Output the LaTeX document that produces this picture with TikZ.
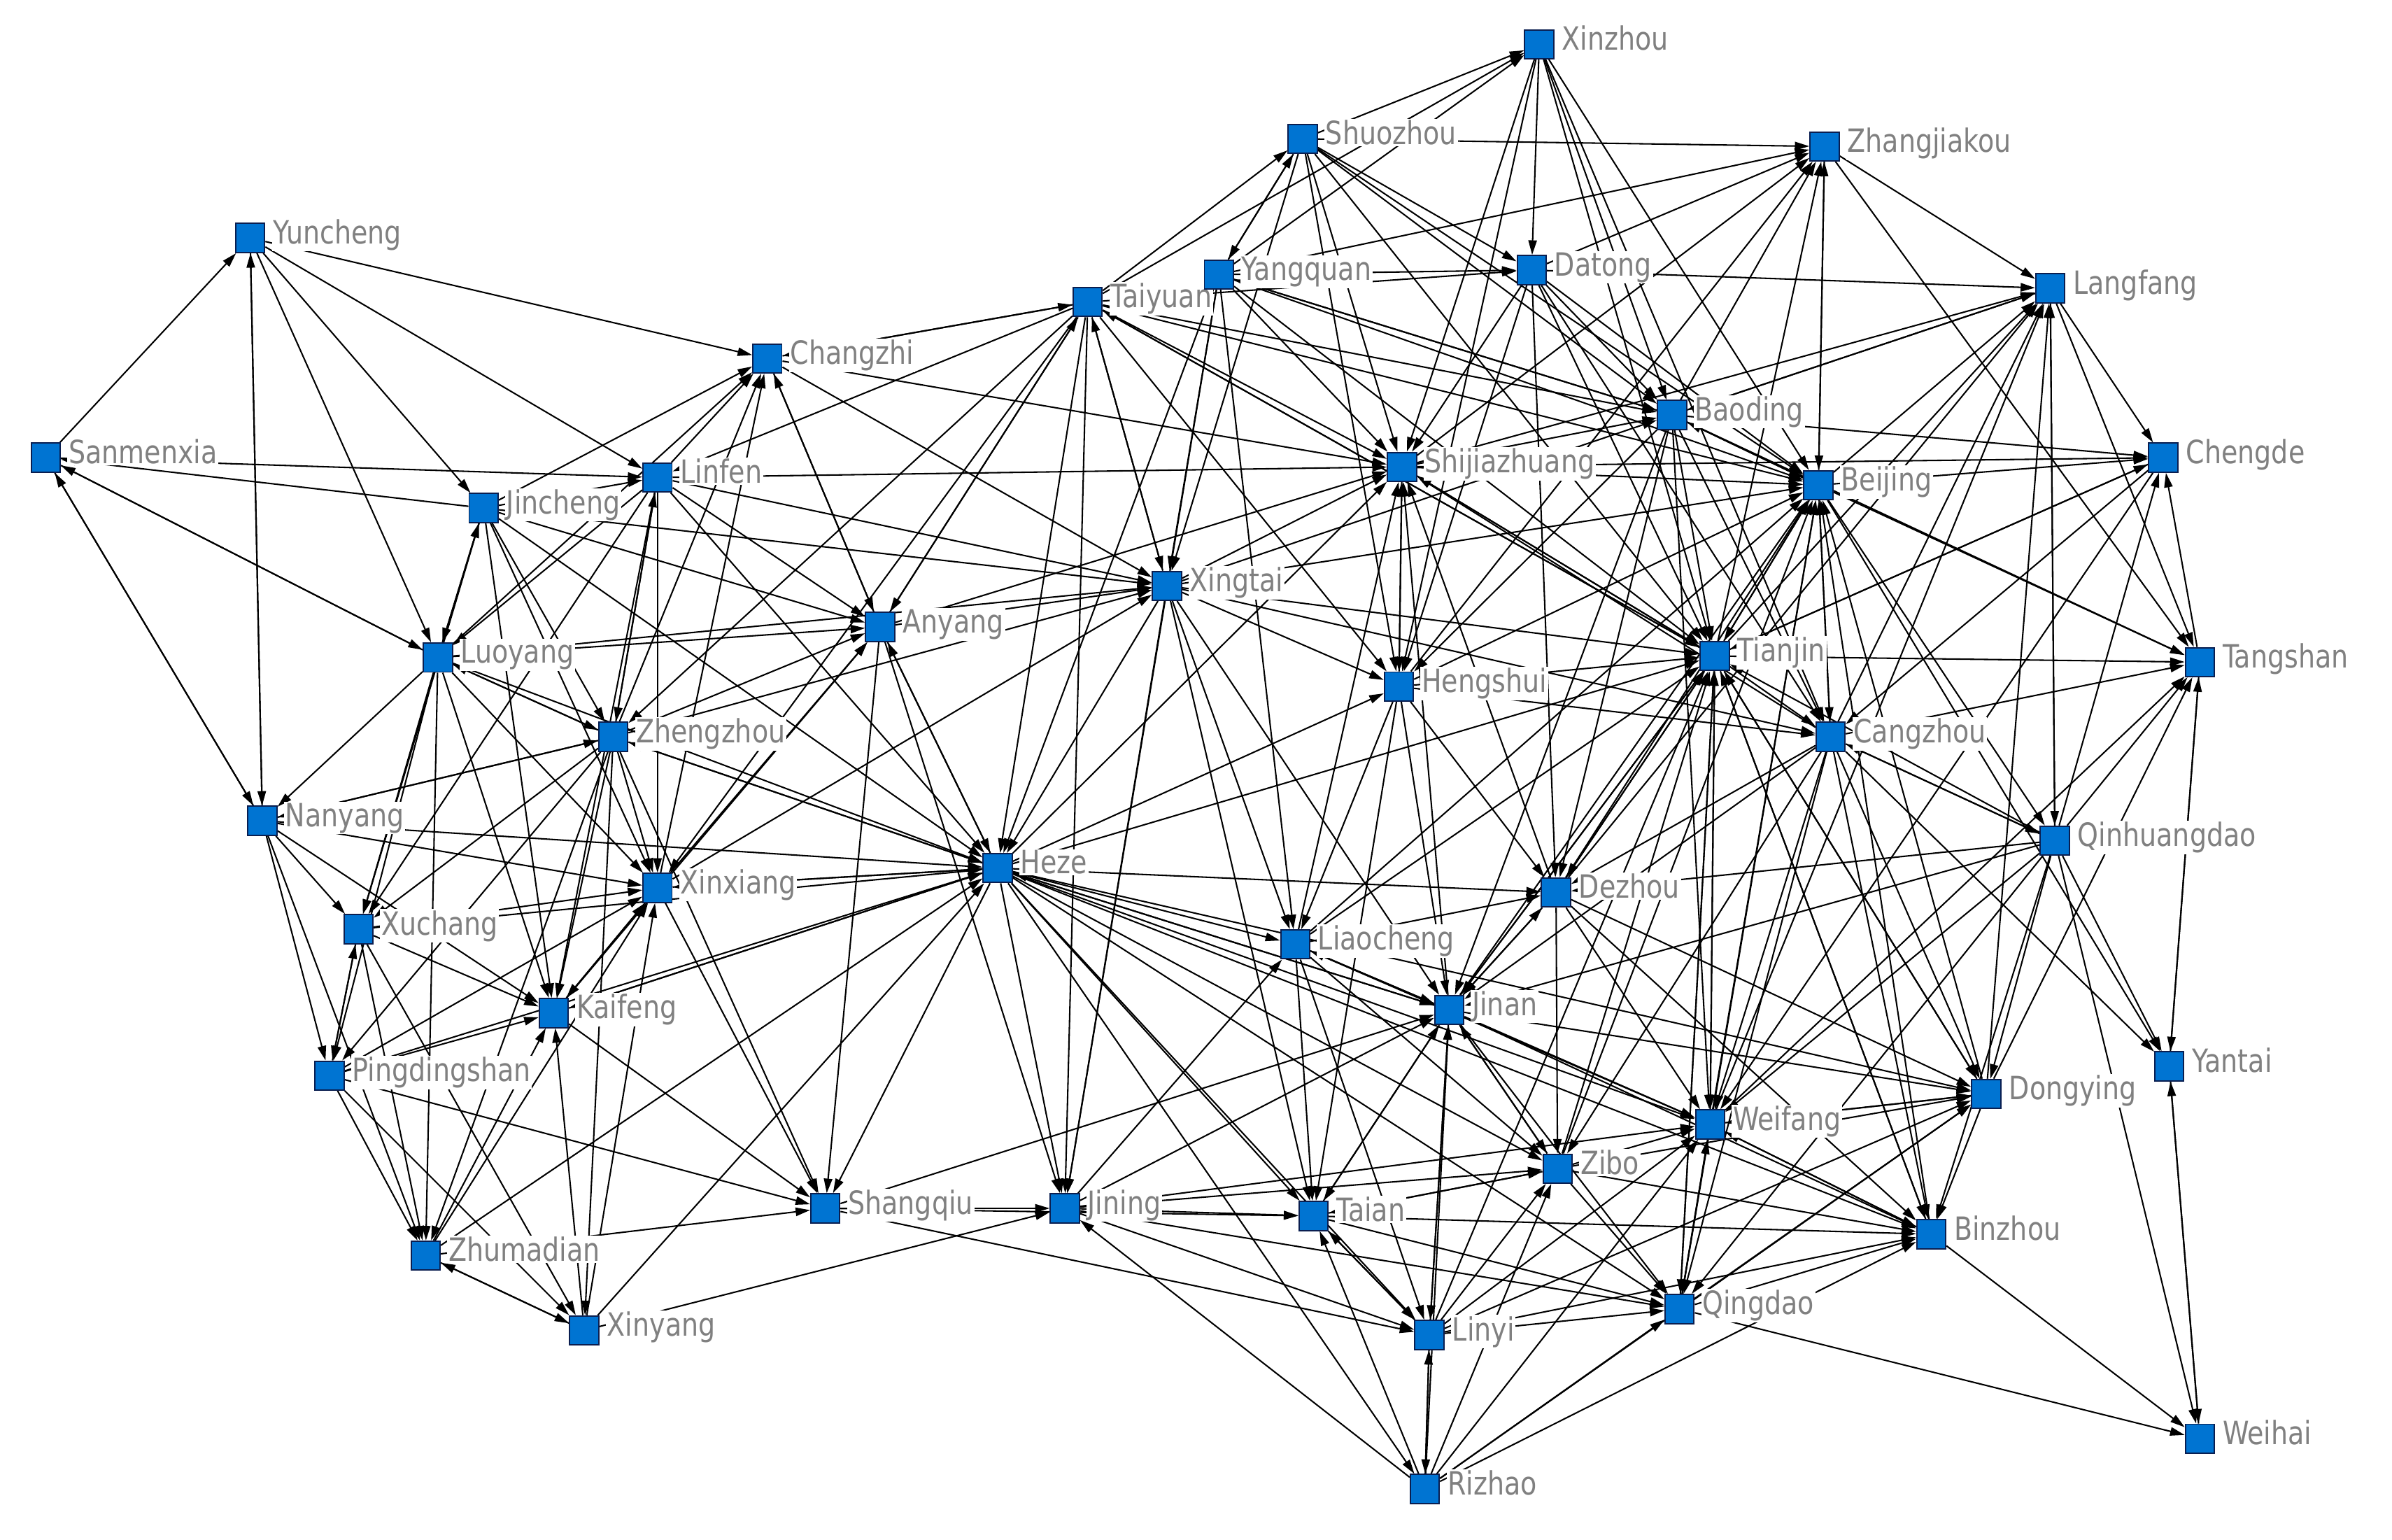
\documentclass[tikz,border=0pt]{standalone}
\usepackage{fontspec}
\newfontfamily\labfont[FakeStretch=0.83]{DejaVu Sans}
\usetikzlibrary{arrows.meta}
\pgfdeclarelayer{bg}
\pgfdeclarelayer{paper}
\pgfdeclarelayer{labl}
\pgfsetlayers{paper,bg,labl,main}
\definecolor{nodeblue}{RGB}{0,116,210}
\definecolor{nodeedge}{RGB}{10,30,80}
\definecolor{labgray}{RGB}{128,128,128}
\newcommand\mkcity[4]{%
  \node[city] (#1) at (#2,#3) {};
  \begin{pgfonlayer}{labl}
  \node[lab] (#1t) at ([xshift=14pt,yshift=-3.7pt]#1.center) {#4};
  \end{pgfonlayer}}
\begin{document}
\begin{tikzpicture}[x=1pt,y=-1pt,
 city/.style={rectangle,draw=nodeedge,fill=nodeblue,line width=0.9pt,minimum size=19pt,inner sep=0pt},
 lab/.style={anchor=base west,fill=white,inner sep=0.8pt,text=labgray,font=\labfont\fontsize{21}{21}\selectfont},
 edge/.style={-{Triangle[length=9.5pt,width=5.5pt]},line width=0.95pt,black}]
\useasboundingbox (0,0) rectangle (1568,1009);
\begin{pgfonlayer}{paper}
\fill[white] (0,0) rectangle (1568,1009);
\end{pgfonlayer}
\mkcity{XZ}{1009}{29}{Xinzhou}
\mkcity{SZ}{854}{91}{Shuozhou}
\mkcity{ZJK}{1196}{96}{Zhangjiakou}
\mkcity{YC}{164}{156}{Yuncheng}
\mkcity{YQ}{799}{180}{Yangquan}
\mkcity{DT}{1004}{177}{Datong}
\mkcity{LFG}{1344}{189}{Langfang}
\mkcity{TY}{713}{198}{Taiyuan}
\mkcity{CZ}{503}{235}{Changzhi}
\mkcity{BD}{1096}{272}{Baoding}
\mkcity{SMX}{30}{300}{Sanmenxia}
\mkcity{CD}{1418}{300}{Chengde}
\mkcity{SJZ}{919}{306}{Shijiazhuang}
\mkcity{LF}{431}{313}{Linfen}
\mkcity{BJ}{1192}{318}{Beijing}
\mkcity{JC}{317}{333}{Jincheng}
\mkcity{XT}{765}{384}{Xingtai}
\mkcity{AY}{577}{411}{Anyang}
\mkcity{TJ}{1124}{430}{Tianjin}
\mkcity{TS}{1442}{434}{Tangshan}
\mkcity{LY}{287}{431}{Luoyang}
\mkcity{HS}{917}{450}{Hengshui}
\mkcity{ZZ}{402}{483}{Zhengzhou}
\mkcity{CAZ}{1200}{483}{Cangzhou}
\mkcity{NY}{172}{538}{Nanyang}
\mkcity{QHD}{1347}{551}{Qinhuangdao}
\mkcity{HZ}{654}{569}{Heze}
\mkcity{XX}{431}{582}{Xinxiang}
\mkcity{DZ}{1020}{585}{Dezhou}
\mkcity{XC}{235}{609}{Xuchang}
\mkcity{LC}{849}{619}{Liaocheng}
\mkcity{JN}{950}{662}{Jinan}
\mkcity{KF}{363}{664}{Kaifeng}
\mkcity{YT}{1422}{699}{Yantai}
\mkcity{PDS}{216}{705}{Pingdingshan}
\mkcity{DY}{1302}{717}{Dongying}
\mkcity{WF}{1121}{737}{Weifang}
\mkcity{ZB}{1021}{766}{Zibo}
\mkcity{SQ}{541}{792}{Shangqiu}
\mkcity{JNG}{698}{792}{Jining}
\mkcity{TA}{861}{797}{Taian}
\mkcity{BZ}{1266}{809}{Binzhou}
\mkcity{ZMD}{279}{823}{Zhumadian}
\mkcity{QD}{1101}{858}{Qingdao}
\mkcity{XY}{383}{872}{Xinyang}
\mkcity{LYI}{937}{875}{Linyi}
\mkcity{WH}{1442}{943}{Weihai}
\mkcity{RZ}{934}{976}{Rizhao}
\begin{pgfonlayer}{bg}
\foreach \a/\b in {
SZ/XZ,TY/XZ,YQ/XZ,XZ/DT,XZ/SJZ,XZ/BD,XZ/BJ,XZ/TJ,XZ/HS,XZ/CAZ,
SZ/ZJK,SZ/DT,SZ/BD,SZ/BJ,TY/SZ,YQ/SZ,SZ/YQ,SZ/SJZ,SZ/XT,SZ/TJ,SZ/HS,
DT/ZJK,ZJK/LFG,ZJK/BJ,BJ/ZJK,BD/ZJK,ZJK/TS,TJ/ZJK,SJZ/ZJK,YQ/ZJK,HS/ZJK,
YQ/DT,DT/LFG,DT/BD,DT/BJ,DT/TJ,DT/CAZ,DT/SJZ,DT/HS,TY/DT,DT/DZ,
BD/LFG,LFG/BD,BJ/LFG,LFG/CD,LFG/TS,LFG/QHD,QHD/LFG,TJ/LFG,CAZ/LFG,SJZ/LFG,DZ/LFG,WF/LFG,DY/LFG,
BD/CD,BJ/CD,TS/CD,QHD/CD,CD/TJ,CD/CAZ,CD/WF,TJ/CD,
BJ/TS,TJ/TS,CAZ/TS,QHD/TS,TS/YT,YT/TS,DY/TS,WF/TS,BD/TS,
QHD/CAZ,CAZ/QHD,QHD/TJ,QHD/DY,QHD/BZ,QHD/YT,QHD/WH,QHD/WF,QHD/DZ,QHD/JN,QHD/QD,BJ/QHD,
YT/WH,WH/YT,CAZ/YT,BJ/YT,QD/WH,BZ/WH,
BD/BJ,BJ/BD,SJZ/BJ,YQ/BJ,TY/BJ,BJ/TJ,TJ/BJ,BJ/CAZ,CAZ/BJ,HS/BJ,XT/BJ,DZ/BJ,JN/BJ,WF/BJ,DY/BJ,BZ/BJ,QD/BJ,ZB/BJ,LC/BJ,
SJZ/TJ,TJ/SJZ,TY/TJ,TJ/TY,YQ/TJ,TJ/CAZ,DZ/TJ,TJ/DZ,JN/TJ,TJ/JN,LC/TJ,WF/TJ,TJ/WF,ZB/TJ,DY/TJ,BZ/TJ,QD/TJ,LYI/TJ,HS/TJ,XT/TJ,BD/TJ,HZ/TJ,TJ/QD,TJ/BZ,TJ/DY,
CZ/SJZ,LF/SJZ,TY/SJZ,YQ/SJZ,SJZ/HS,HS/SJZ,SJZ/BD,XT/SJZ,AY/SJZ,LC/SJZ,JN/SJZ,DZ/SJZ,HZ/SJZ,CAZ/SJZ,SJZ/CD,
TY/BD,YQ/BD,BD/YQ,BD/CAZ,BD/DZ,BD/HS,XT/BD,BD/WF,BD/JN,
XT/HS,HS/CAZ,HS/LC,HS/JN,HS/DZ,HS/TA,HZ/HS,TY/HS,
LF/XT,CZ/XT,JC/XT,AY/XT,TY/XT,XT/TY,YQ/XT,XT/CAZ,XT/LC,XT/JN,XT/TA,XT/HZ,XT/JNG,ZZ/XT,XX/XT,LY/XT,
CZ/TY,TY/CZ,TY/AY,TY/HZ,TY/JNG,TY/ZZ,TY/XX,TY/LF,
YQ/HZ,YQ/JNG,YQ/LC,
CZ/AY,AY/CZ,LF/CZ,JC/CZ,LY/CZ,ZZ/CZ,XX/CZ,YC/CZ,
YC/LF,SMX/LF,LF/LY,LF/ZZ,ZZ/LF,LF/XX,LF/KF,LF/XC,LF/AY,LF/HZ,JC/LF,
YC/JC,JC/SMX,JC/LY,LY/JC,JC/ZZ,JC/XX,JC/KF,JC/XC,JC/AY,JC/HZ,
AY/HZ,HZ/AY,AY/SQ,LY/AY,ZZ/AY,XX/AY,KF/AY,AY/TY,AY/JNG,
SMX/LY,LY/SMX,YC/LY,LY/ZZ,ZZ/LY,LY/XC,LY/PDS,LY/NY,LY/KF,LY/ZMD,LY/XX,LY/HZ,
ZZ/XX,ZZ/KF,ZZ/XC,ZZ/PDS,ZZ/NY,ZZ/ZMD,ZZ/XY,ZZ/HZ,HZ/ZZ,ZZ/SQ,NY/ZZ,
YC/NY,NY/YC,SMX/YC,SMX/NY,NY/SMX,NY/XC,NY/PDS,NY/ZMD,NY/KF,NY/XX,NY/HZ,
XX/HZ,HZ/XX,XX/SQ,XX/KF,XC/XX,KF/XX,PDS/XX,
XC/KF,XC/PDS,XC/ZMD,XC/HZ,XC/XY,PDS/XC,
KF/HZ,HZ/KF,KF/SQ,PDS/KF,ZMD/KF,XY/KF,
PDS/ZMD,PDS/XY,PDS/SQ,PDS/HZ,
ZMD/XY,XY/ZMD,ZMD/SQ,ZMD/XX,ZMD/HZ,
XY/JNG,XY/HZ,XY/XX,
SQ/JNG,HZ/SQ,SQ/LYI,SQ/JN,SQ/TA,
HZ/JN,JN/HZ,HZ/LC,HZ/DZ,HZ/JNG,HZ/TA,HZ/LYI,HZ/RZ,HZ/QD,HZ/ZB,HZ/WF,HZ/BZ,HZ/DY,
JNG/TA,JNG/JN,JNG/ZB,JNG/LYI,JNG/QD,JNG/WF,RZ/JNG,JNG/LC,
LC/JN,JN/LC,LC/TA,LC/DZ,LC/ZB,LC/WF,LC/LYI,
JN/ZB,ZB/JN,JN/WF,JN/BZ,JN/TA,TA/JN,JN/LYI,LYI/JN,JN/DZ,DZ/JN,JN/DY,JN/QD,RZ/JN,
CAZ/DZ,DZ/ZB,DZ/WF,DZ/DY,DZ/BZ,
CAZ/WF,CAZ/DY,CAZ/BZ,CAZ/ZB,CAZ/JN,CAZ/QD,
ZB/WF,QD/WF,WF/QD,WF/DY,DY/WF,WF/BZ,BZ/WF,LYI/WF,RZ/WF,
TA/ZB,ZB/TA,ZB/QD,ZB/DY,ZB/BZ,LYI/ZB,RZ/ZB,
TA/LYI,LYI/TA,TA/QD,TA/BZ,RZ/TA,
DY/BZ,QD/DY,LYI/DY,RZ/DY,
LYI/BZ,RZ/BZ,QD/BZ,
LYI/QD,RZ/QD,
RZ/LYI,LYI/RZ}
{\draw[edge] (\a) -- (\b);}
\end{pgfonlayer}
\end{tikzpicture}
\end{document}
